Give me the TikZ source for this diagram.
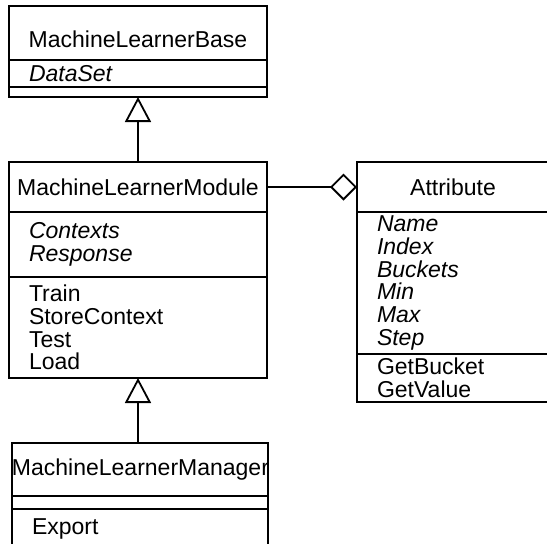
\documentclass[tikz,border=0pt]{standalone}
\usepackage{fontspec}
\setmainfont{Liberation Sans}
\usetikzlibrary{arrows.meta,positioning}

\tikzset{
  trida/.style={draw, line width=1.8pt, inner sep=0pt, outer sep=0pt,
    font=\fontsize{23}{22.8}\selectfont},
  nazev/.style={trida, text width=#1, minimum width=#1, align=center},
  metody/.style={trida, inner xsep=20pt, text width=#1, align=left},
  atributy/.style={metody=#1, font=\fontsize{23}{22.8}\selectfont\itshape},
  dedi/.style={line width=1.8pt, -{Triangle[open, length=25pt, width=26pt]}},
  agregace/.style={line width=1.8pt, -{Diamond[open, length=27pt, width=27pt]}}
}

\begin{document}
\begin{tikzpicture}[x=1pt, y=-1pt]
        \useasboundingbox (0,0) rectangle (547,544);
        \clip (0,0) rectangle (547,544);

        % MachineLearnerBase
        \node[nazev=258pt, minimum height=54pt, anchor=north west,
          text height=28pt, text depth=0pt] (baseN) at (9,6) {MachineLearnerBase};
        \node[atributy=218pt, minimum height=27pt, below=0pt of baseN] (baseA) {DataSet};
        \node[metody=218pt, minimum height=10pt, below=0pt of baseA] (baseO) {};

        % MachineLearnerModule
        \node[nazev=258pt, minimum height=50pt, anchor=north west] (modN) at (9,162) {MachineLearnerModule};
        \node[atributy=218pt, minimum height=65pt, below=0pt of modN] (modA) {Contexts\\Response};
        \node[metody=218pt, minimum height=101pt, below=0pt of modA] (modO) {Train\\StoreContext\\Test\\Load};

        % MachineLearnerManager
        \node[nazev=256pt, minimum height=53pt, anchor=north west] (manN) at (12,443) {MachineLearnerManager};
        \node[metody=216pt, minimum height=13pt, below=0pt of manN] (manA) {};
        \node[metody=216pt, minimum height=40pt, below=0pt of manA] (manO) {Export};

        % Attribute
        \node[nazev=192pt, minimum height=50pt, anchor=north west] (attN) at (357,162) {Attribute};
        \node[atributy=152pt, minimum height=142pt, below=0pt of attN] (attA) {Name\\Index\\Buckets\\Min\\Max\\Step};
        \node[metody=152pt, minimum height=48pt, below=0pt of attA] (attO) {GetBucket\\GetValue};

        % vztahy
        \draw[dedi] (modN.north) -- (baseO.south);
        \draw[dedi] (manN.north -| modO.south) -- (modO.south);
        \draw[agregace] (modN.east) -- (attN.west);
    \end{tikzpicture}
\end{document}
